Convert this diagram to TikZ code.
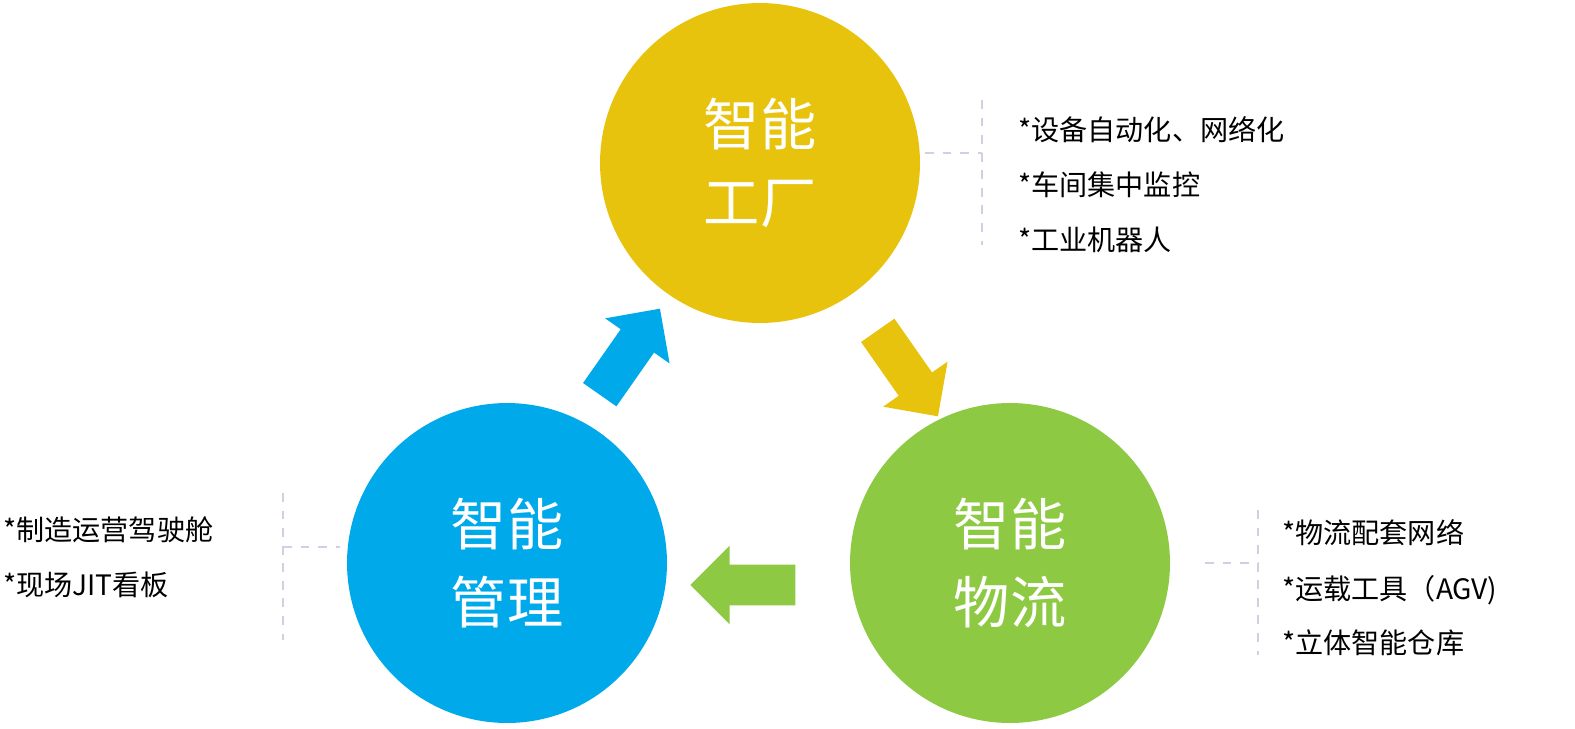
\documentclass[tikz,border=0pt]{standalone}
\usepackage{fontspec}
\newfontfamily\cjk{Noto Sans CJK SC}
\usetikzlibrary{positioning,shapes.arrows}
\definecolor{factory}{HTML}{E8C30E}
\definecolor{logistic}{HTML}{8DC943}
\definecolor{manage}{HTML}{00A9EA}
\definecolor{bracket}{HTML}{D6CCE3}
\tikzset{
    hub/.style={circle, minimum size=6.4cm, inner sep=0pt, text=white,
        font=\cjk\fontsize{32}{44}\selectfont, align=center},
    flow/.style={single arrow, minimum height=2.1cm, minimum width=1.55cm,
        inner sep=0.4cm, single arrow head extend=0.38cm},
    item/.style={anchor=west, font=\cjk\fontsize{16}{20}\selectfont, inner sep=0pt},
    brk/.style={bracket, line width=1.6pt, dash pattern=on 5pt off 5pt}
}
\begin{document}
\begin{tikzpicture}[x=0.02cm, y=-0.02cm]
    \useasboundingbox (0,0) rectangle (1575,728);
    % Circles
    \node[hub, fill=factory] (F) at (760,163) {智能\\工厂};
    \node[hub, fill=logistic] (L) at (1010,563) {智能\\物流};
    \node[hub, fill=manage] (M) at (507,563) {智能\\管理};

    % Arrows between circles
    \node[flow, fill=manage, rotate=55] (a1) at (624,360) {};
    \node[flow, fill=factory, rotate=-55] (a2) at (902,365) {};
    \node[flow, fill=logistic, rotate=180] (a3) at (753,585) {};

    % Brackets
    \coordinate (b1t) at (982,100); \coordinate (b1b) at (982,245);
    \coordinate (b1m) at (982,153); \coordinate (b1e) at (925,153);
    \draw[brk] (b1t) -- (b1b); \draw[brk] (b1e) -- (b1m);
    \coordinate (b2t) at (283,493); \coordinate (b2b) at (283,640);
    \coordinate (b2m) at (283,547); \coordinate (b2e) at (340,547);
    \draw[brk] (b2t) -- (b2b); \draw[brk] (b2m) -- (b2e);
    \coordinate (b3t) at (1258,510); \coordinate (b3b) at (1258,655);
    \coordinate (b3m) at (1258,563); \coordinate (b3e) at (1205,563);
    \draw[brk] (b3t) -- (b3b); \draw[brk] (b3e) -- (b3m);

    % Item lists
    \node[item] (f1) at (1018,130) {*设备自动化、网络化};
    \node[item] (f2) at (1018,185) {*车间集中监控};
    \node[item] (f3) at (1018,240) {*工业机器人};
    \node[item] (m1) at (3,530) {*制造运营驾驶舱};
    \node[item] (m2) at (3,585) {*现场JIT看板};
    \node[item] (l1) at (1282,533) {*物流配套网络};
    \node[item] (l2) at (1282,590) {*运载工具（AGV)};
    \node[item] (l3) at (1282,643) {*立体智能仓库};
\end{tikzpicture}
\end{document}
